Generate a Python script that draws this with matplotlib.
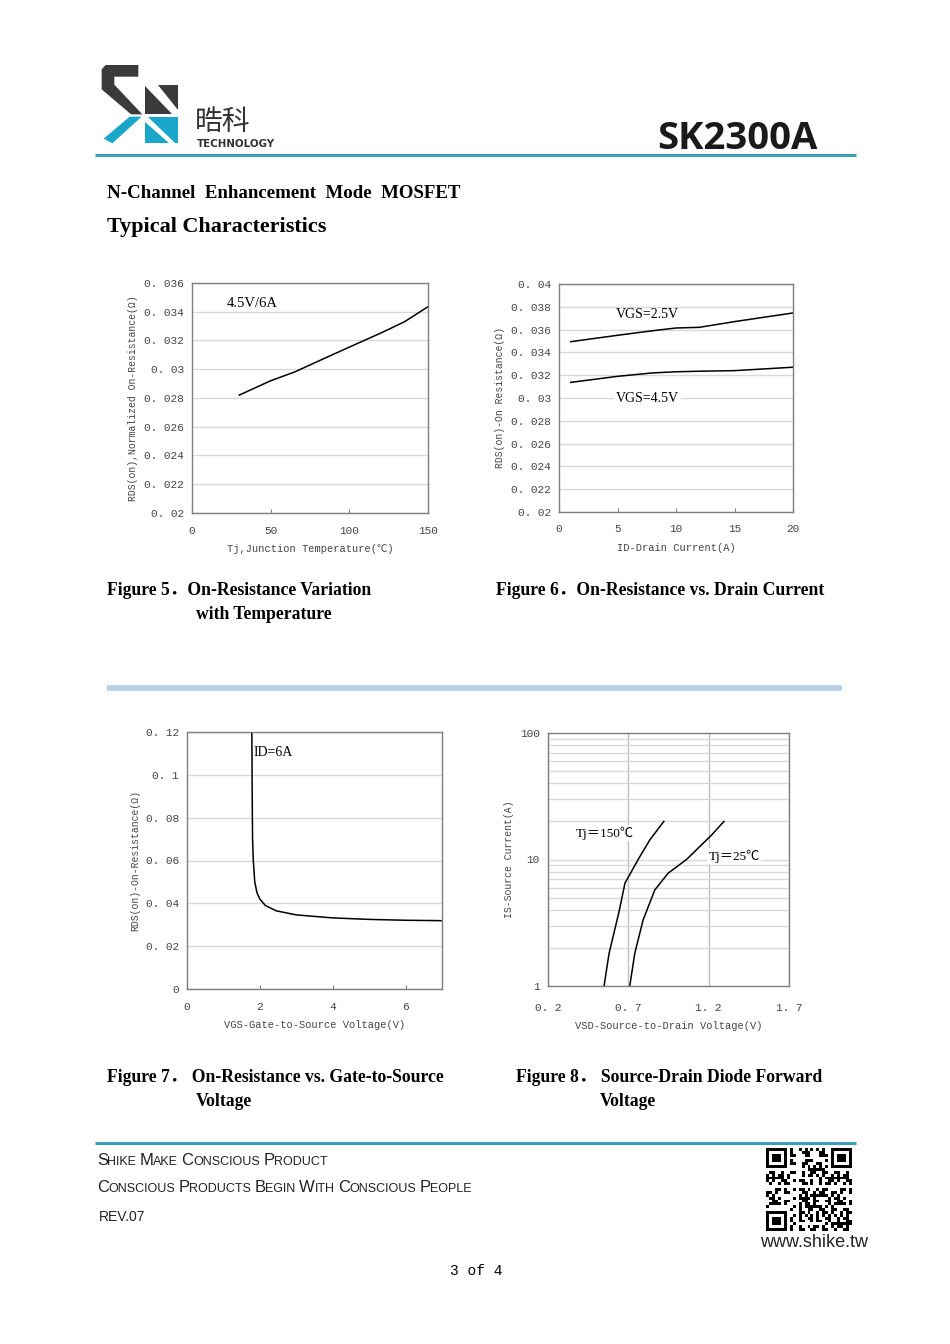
import numpy as np
import matplotlib.pyplot as plt
from matplotlib.patches import Polygon
from matplotlib.ticker import FixedLocator, NullFormatter

W, H = 950, 1344

# ---- data ----
tj = [30, 50, 65, 85, 100, 120, 135, 150]
rds_tj = [0.0282, 0.0292, 0.0298, 0.0308, 0.03154, 0.03252, 0.0333, 0.03435]

id_a = [1, 5, 8, 10, 12, 15, 20]
rds_vgs25 = [0.03494, 0.0355, 0.0359, 0.03614, 0.0362, 0.0367, 0.03746]
rds_vgs45 = [0.03137, 0.0319, 0.0322, 0.0323, 0.03235, 0.0324, 0.0327]

vgs = [1.78, 1.79, 1.80, 1.82, 1.86, 1.92, 2.0, 2.15, 2.45, 3.0, 4.0, 5.0, 6.0, 7.0]
rds_vgs = [0.12, 0.09, 0.07, 0.06, 0.05, 0.045, 0.042, 0.039, 0.0365, 0.0346,
           0.0332, 0.0325, 0.0321, 0.0319]

vsd_150 = [0.549, 0.58, 0.64, 0.679, 0.761, 0.834, 0.921]
is_150 = [1.0, 1.81, 3.76, 6.5, 10.0, 14.3, 20.0]
vsd_25 = [0.709, 0.74, 0.792, 0.865, 0.948, 1.062, 1.218, 1.295]
is_25 = [1.0, 1.81, 3.33, 5.75, 7.8, 10.0, 15.6, 20.0]

MONO = ['Liberation Mono', 'Noto Sans CJK SC']
SERIF = ['Liberation Serif', 'Noto Sans CJK SC']
TICK = '#444444'
GRID = '#d9d9d9'
TS = 8

fig = plt.figure(figsize=(W / 100, H / 100), dpi=100)
fig.patch.set_facecolor('white')


def P(x, y):
    return x / W, 1 - y / H


def add_ax(x0, y0, x1, y1):
    ax = fig.add_axes([x0 / W, 1 - y1 / H, (x1 - x0) / W, (y1 - y0) / H])
    for s in ax.spines.values():
        s.set_color('#7f7f7f')
        s.set_linewidth(1.0)
    ax.tick_params(axis='both', colors='#7f7f7f')
    ax.tick_params(axis='y', length=0, pad=6)
    ax.tick_params(axis='x', direction='in', length=3, pad=9)
    return ax


def fmt(v):
    return ('%g' % v).replace('.', '. ')


def set_ticks(ax, xt, yt):
    ax.set_xticks(xt)
    ax.set_xticklabels([fmt(v) for v in xt], family=MONO, fontsize=TS, color=TICK)
    ax.set_yticks(yt)
    ax.set_yticklabels([fmt(v) for v in yt], family=MONO, fontsize=TS, color=TICK)


def labels(ax, xl, yl):
    ax.set_xlabel(xl, family=MONO, fontsize=7.5, color=TICK, labelpad=6)
    ax.set_ylabel(yl, family=MONO, fontsize=7, color=TICK, labelpad=4)


# ---- Figure 5 ----
ax5 = add_ax(192, 283, 428, 513)
ax5.plot(tj, rds_tj, color='black', lw=1.1)
ax5.set_xlim(0, 150)
ax5.set_ylim(0.02, 0.036)
yt5 = [0.02, 0.022, 0.024, 0.026, 0.028, 0.03, 0.032, 0.034, 0.036]
set_ticks(ax5, [0, 50, 100, 150], yt5)
ax5.grid(axis='y', color=GRID, lw=1)
ax5.set_axisbelow(True)
labels(ax5, 'Tj,Junction Temperature(℃)', 'RDS(on),Normalized On-Resistance(Ω)')
ax5.text(22, 0.0346, '4.5V/6A', family=SERIF, fontsize=10.5, va='center')

# ---- Figure 6 ----
ax6 = add_ax(559, 284, 793, 512)
ax6.plot(id_a, rds_vgs25, color='black', lw=1.1)
ax6.plot(id_a, rds_vgs45, color='black', lw=1.1)
ax6.set_xlim(0, 20)
ax6.set_ylim(0.02, 0.04)
yt6 = [0.02, 0.022, 0.024, 0.026, 0.028, 0.03, 0.032, 0.034, 0.036, 0.038, 0.04]
set_ticks(ax6, [0, 5, 10, 15, 20], yt6)
ax6.grid(axis='y', color=GRID, lw=1)
ax6.set_axisbelow(True)
labels(ax6, 'ID-Drain Current(A)', 'RDS(on)-On Resistance(Ω)')
ax6.text(4.9, 0.0373, 'VGS=2.5V', family=SERIF, fontsize=10, va='center')
ax6.text(4.9, 0.0300, 'VGS=4.5V', family=SERIF, fontsize=10, va='center',
         bbox=dict(facecolor='white', edgecolor='none', pad=1.5))

# ---- Figure 7 ----
ax7 = add_ax(187, 732, 442, 989)
ax7.plot(vgs, rds_vgs, color='black', lw=1.1)
ax7.set_xlim(0, 7)
ax7.set_ylim(0, 0.12)
set_ticks(ax7, [0, 2, 4, 6], [0, 0.02, 0.04, 0.06, 0.08, 0.1, 0.12])
ax7.grid(axis='y', color=GRID, lw=1)
ax7.set_axisbelow(True)
labels(ax7, 'VGS-Gate-to-Source Voltage(V)', 'RDS(on)-On-Resistance(Ω)')
ax7.text(1.84, 0.1104, 'ID=6A', family=SERIF, fontsize=10, va='center')

# ---- Figure 8 ----
ax8 = add_ax(548, 733, 789, 986)
ax8.plot(vsd_150, is_150, color='black', lw=1.1)
ax8.plot(vsd_25, is_25, color='black', lw=1.1)
ax8.set_yscale('log')
ax8.set_xlim(0.2, 1.7)
ax8.set_ylim(1, 100)
ax8.set_xticks([0.2, 0.7, 1.2, 1.7])
ax8.set_xticklabels(['0. 2', '0. 7', '1. 2', '1. 7'], family=MONO, fontsize=TS, color=TICK)
ax8.set_yticks([1, 10, 100])
ax8.set_yticklabels(['1', '10', '100'], family=MONO, fontsize=TS, color=TICK)
ax8.yaxis.set_minor_locator(FixedLocator([2, 3, 4, 5, 6, 7, 8, 9, 20, 30, 40, 50, 60, 70, 80, 90]))
ax8.yaxis.set_minor_formatter(NullFormatter())
ax8.tick_params(axis='y', which='both', length=0)
ax8.tick_params(axis='x', length=0, pad=12)
ax8.grid(axis='y', which='both', color=GRID, lw=1)
ax8.grid(axis='x', which='major', color='#bfbfbf', lw=1)
ax8.set_axisbelow(True)
labels(ax8, 'VSD-Source-to-Drain Voltage(V)', 'IS-Source Current(A)')
ax8.text(0.37, 16.2, 'Tj＝150℃', family=SERIF, fontsize=9.5, va='center',
         bbox=dict(facecolor='white', edgecolor='none', pad=1.0))
ax8.text(1.2, 10.6, 'Tj＝25℃', family=SERIF, fontsize=9.5, va='center',
         bbox=dict(facecolor='white', edgecolor='none', pad=1.0))

# ---- page header ----
lax = fig.add_axes([0, 0, 1, 1], zorder=-1)
lax.set_xlim(0, W)
lax.set_ylim(H, 0)
lax.axis('off')


def zpt(pts):
    return [(95 + x / 3, 60 + y / 3) for x, y in pts]


dark = '#3a3a3a'
cyan = '#1aa6c9'
for pts, c in [
    ([(20, 28), (32, 15), (130, 15), (130, 50), (58, 50), (58, 74), (142, 163), (108, 163), (20, 88)], dark),
    ([(190, 75), (250, 75), (250, 150)], dark),
    ([(150, 78), (150, 163), (232, 163)], dark),
    ([(104, 170), (140, 170), (52, 250), (26, 236)], cyan),
    ([(150, 185), (150, 250), (222, 250)], cyan),
    ([(158, 170), (250, 170), (250, 250), (240, 250)], cyan),
]:
    lax.add_patch(Polygon(zpt(pts), closed=True, facecolor=c, edgecolor='none'))

fig.text(*P(195, 130), '晧科', family=['Noto Sans CJK SC'], fontsize=20, color='#333333', va='baseline')
fig.text(*P(197, 147), 'TECHNOLOGY', family=['DejaVu Sans'], fontsize=7.4,
         weight='bold', color='#333333', va='baseline')
fig.text(*P(818, 149), 'SK2300A', family=['Open Sans', 'DejaVu Sans'], fontsize=27.5,
         weight='bold', color='#1a1a1a', ha='right', va='baseline')
lax.plot([95, 856], [155, 155], color='#3a9fb6', lw=2.2, solid_capstyle='butt')

fig.text(*P(107, 198), 'N-Channel  Enhancement  Mode  MOSFET', family=SERIF, fontsize=13.6,
         weight='bold', va='baseline')
fig.text(*P(107, 232), 'Typical Characteristics', family=SERIF, fontsize=15.9,
         weight='bold', va='baseline')

# ---- captions ----
cap = dict(family=SERIF, fontsize=12.7, weight='bold', va='baseline')
fig.text(*P(107, 595), 'Figure 5．On-Resistance Variation', **cap)
fig.text(*P(196, 619), 'with Temperature', **cap)
fig.text(*P(496, 595), 'Figure 6．On-Resistance vs. Drain Current', **cap)
fig.text(*P(107, 1082), 'Figure 7． On-Resistance vs. Gate-to-Source', **cap)
fig.text(*P(196, 1106), 'Voltage', **cap)
fig.text(*P(516, 1082), 'Figure 8． Source-Drain Diode Forward', **cap)
fig.text(*P(600, 1106), 'Voltage', **cap)

lax.plot([107, 842], [688, 688], color='#b9d0e6', lw=4, solid_capstyle='butt')

# ---- footer ----
lax.plot([95, 856], [1143, 1143], color='#3a9fb6', lw=2.2, solid_capstyle='butt')
renderer = fig.canvas.get_renderer()
FOOT = ['Liberation Sans Narrow', 'Liberation Sans']


def smallcaps(x, y, s, big=12, small=9):
    cx = x
    for word in s.split(' '):
        for part, size in [(word[0], big), (word[1:].upper(), small)]:
            if not part:
                continue
            t = fig.text(*P(cx, y), part, family=FOOT, fontsize=size, color='#222222', va='baseline')
            cx += t.get_window_extent(renderer).width - 0.5
        cx += 4


smallcaps(97, 1165, 'Shike Make Conscious Product')
smallcaps(97, 1192, 'Conscious Products Begin With Conscious People')
fig.text(*P(99, 1221), 'REV.07', family=FOOT, fontsize=10, color='#222222', va='baseline')

# QR-style block
n = 29
ii, jj = np.meshgrid(np.arange(n), np.arange(n), indexing='ij')
qr = (((ii * 31 + jj * 17 + ii * jj * 7 + (ii // 3) * (jj // 2)) % 11) < 5).astype(float)
for (r0, c0) in [(0, 0), (0, n - 7), (n - 7, 0)]:
    qr[max(r0 - 1, 0):r0 + 8, max(c0 - 1, 0):c0 + 8] = 0
    qr[r0:r0 + 7, c0:c0 + 7] = 1
    qr[r0 + 1:r0 + 6, c0 + 1:c0 + 6] = 0
    qr[r0 + 2:r0 + 5, c0 + 2:c0 + 5] = 1
qax = fig.add_axes([766 / W, 1 - 1231 / H, 86 / W, 83 / H])
qax.imshow(qr, cmap='gray_r', interpolation='nearest', aspect='auto')
qax.axis('off')
fig.text(*P(868, 1247), 'www.shike.tw', family=['Liberation Sans'], fontsize=13,
         color='#222222', ha='right', va='baseline')

fig.text(*P(476, 1275), '3 of 4', family=MONO, fontsize=10.5, ha='center', va='baseline')

fig.savefig('out.png', dpi=100, facecolor='white')
